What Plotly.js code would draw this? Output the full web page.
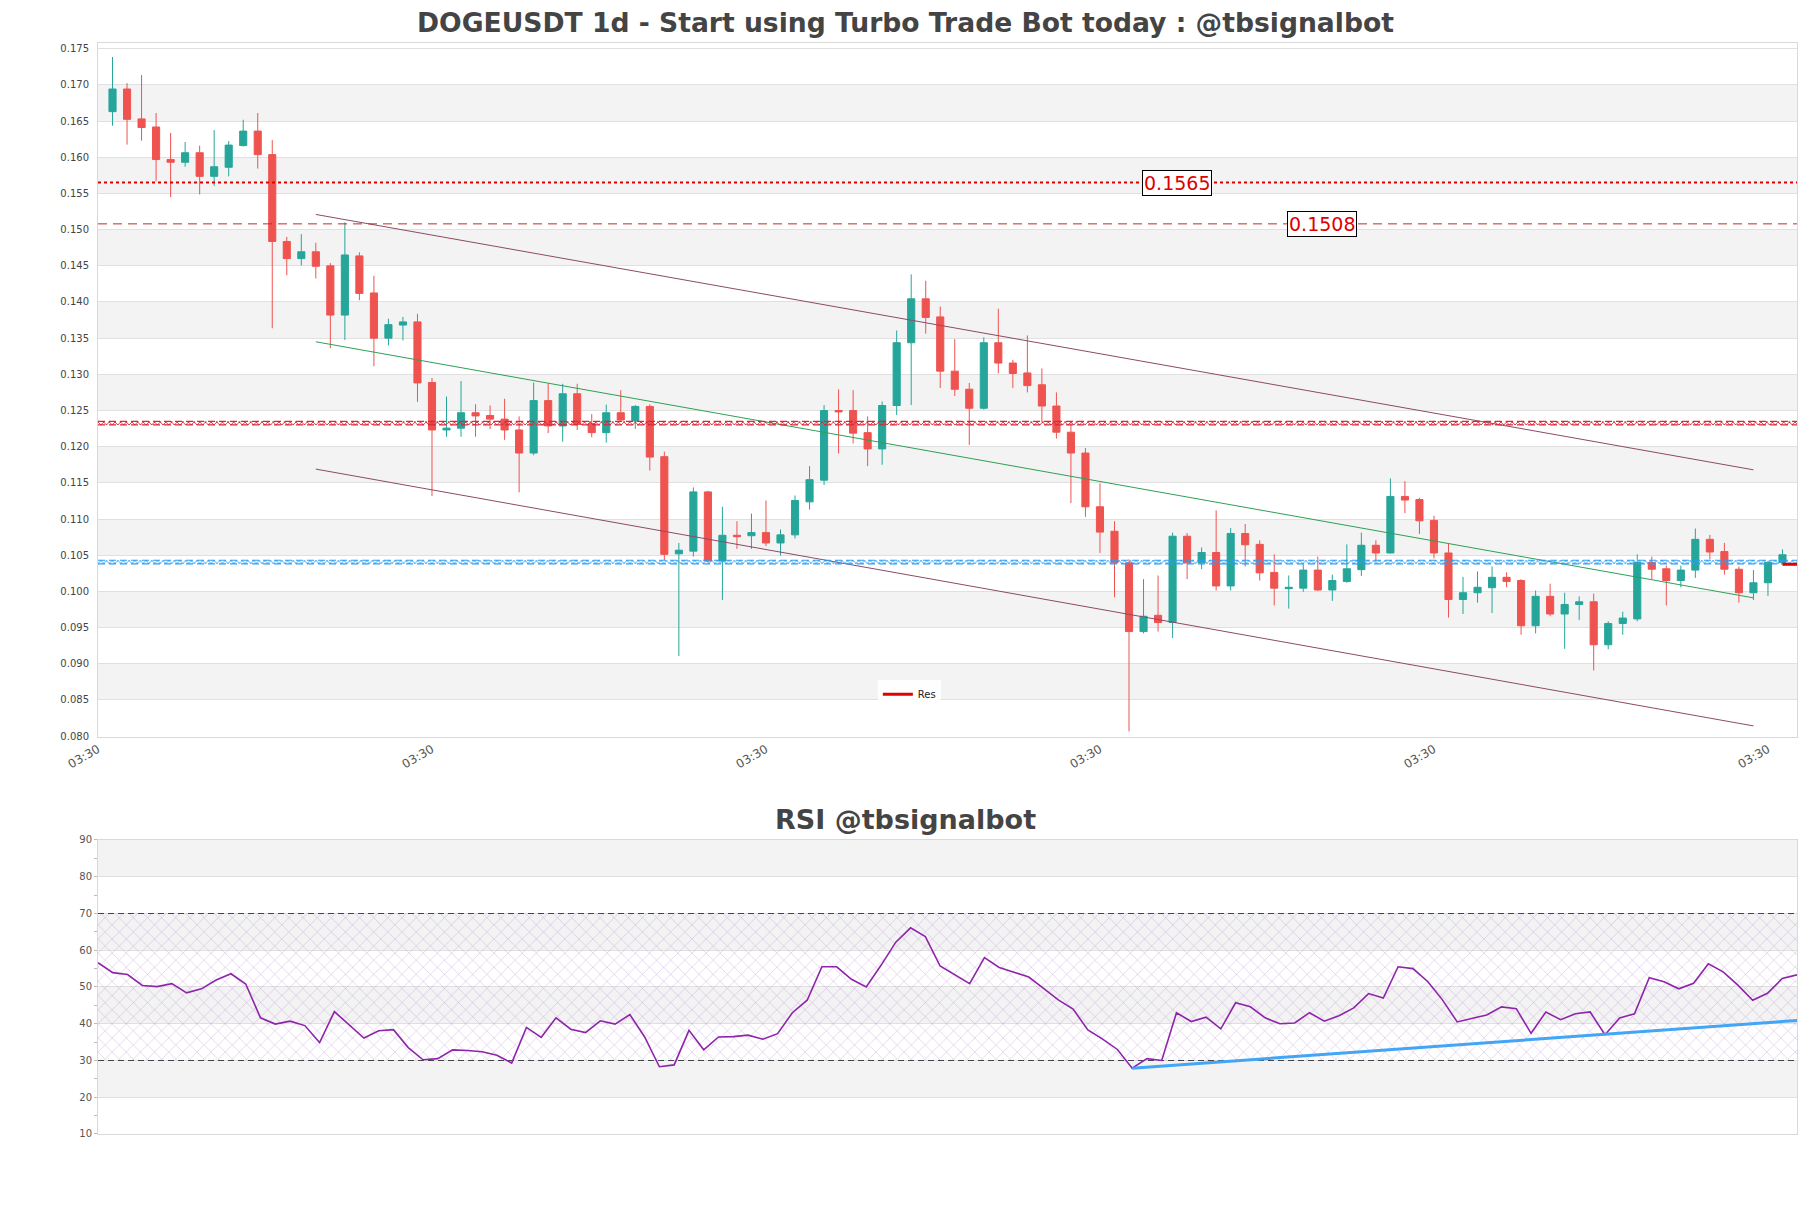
<!DOCTYPE html>
<html>
<head>
<meta charset="utf-8">
<script src="https://cdn.plot.ly/plotly-3.0.1.min.js"></script>
<style>html,body{margin:0;padding:0;background:#fff;}#chart{width:1811px;height:1208px;}</style>
</head>
<body>
<div id="chart"></div>
<script>
// ---- data ----
const startDate = Date.UTC(2024, 4, 27, 3, 30);
const openP = [0.16631,0.16944,0.16531,0.16419,0.15969,0.15931,0.16063,0.15737,0.15862,0.16162,
0.16362,0.16037,0.14837,0.14600,0.14694,0.14500,0.13819,0.14637,0.14125,0.13500,
0.13681,0.13725,0.12887,0.12231,0.12256,0.12469,0.12431,0.12381,0.12231,0.11912,
0.12637,0.12287,0.12731,0.12319,0.12194,0.12469,0.12356,0.12556,0.11862,0.10519,
0.10556,0.11375,0.10419,0.10775,0.10769,0.10812,0.10669,0.10781,0.11237,0.11537,
0.12500,0.12500,0.12194,0.11969,0.12569,0.13437,0.14044,0.13794,0.13044,0.12794,
0.12531,0.13437,0.13156,0.13019,0.12856,0.12562,0.12200,0.11912,0.11169,0.10831,
0.10394,0.09444,0.09669,0.09569,0.10762,0.10394,0.10537,0.10075,0.10800,0.10650,
0.10262,0.10037,0.10044,0.10294,0.10019,0.10137,0.10300,0.10637,0.10531,0.11312,
0.11269,0.10981,0.10531,0.09887,0.09981,0.10050,0.10194,0.10150,0.09525,0.09931,
0.09687,0.09819,0.09856,0.09262,0.09556,0.09619,0.10400,0.10312,0.10150,0.10294,
0.10719,0.10550,0.10306,0.09981,0.10119,0.10400];
const highP = [0.17387,0.17025,0.17137,0.16612,0.16337,0.16212,0.16162,0.16375,0.16225,0.16519,
0.16612,0.16237,0.14900,0.14937,0.14819,0.14537,0.15100,0.14687,0.14362,0.13769,
0.13794,0.13837,0.12950,0.12694,0.12906,0.12587,0.12569,0.12662,0.12419,0.12887,
0.12875,0.12869,0.12869,0.12450,0.12581,0.12781,0.12575,0.12587,0.11931,0.10669,
0.11437,0.11390,0.11169,0.10969,0.11075,0.11256,0.10856,0.11325,0.11731,0.12575,
0.12794,0.12781,0.12419,0.12625,0.13606,0.14381,0.14294,0.13937,0.13487,0.12881,
0.13512,0.13906,0.13200,0.13537,0.13081,0.12750,0.12325,0.11981,0.11494,0.10969,
0.10444,0.10169,0.10219,0.10812,0.10806,0.10606,0.11119,0.10875,0.10931,0.10706,
0.10512,0.10219,0.10375,0.10481,0.10231,0.10650,0.10812,0.10706,0.11562,0.11525,
0.11294,0.11044,0.10656,0.10200,0.10275,0.10344,0.10262,0.10169,0.10012,0.10106,
0.09981,0.09931,0.09969,0.09587,0.09719,0.10512,0.10481,0.10356,0.10356,0.10869,
0.10781,0.10669,0.10344,0.10294,0.10419,0.10581];
const lowP = [0.16437,0.16175,0.16231,0.15669,0.15450,0.15869,0.15487,0.15606,0.15737,0.16150,
0.15844,0.13637,0.14369,0.14506,0.14325,0.13362,0.13475,0.14025,0.13112,0.13400,
0.13469,0.12619,0.11319,0.12137,0.12137,0.12137,0.12244,0.12094,0.11369,0.11881,
0.12187,0.12069,0.12231,0.12131,0.12056,0.12356,0.12244,0.11669,0.10431,0.09106,
0.10481,0.10406,0.09881,0.10587,0.10587,0.10625,0.10494,0.10731,0.11131,0.11469,
0.11906,0.12044,0.11731,0.11750,0.12437,0.12575,0.13562,0.12812,0.12700,0.12025,
0.12512,0.13012,0.12812,0.12750,0.12344,0.12112,0.11219,0.11031,0.10531,0.09919,
0.08063,0.09419,0.09444,0.09356,0.10169,0.10306,0.10012,0.10012,0.10344,0.10150,
0.09806,0.09762,0.09994,0.10006,0.09869,0.10119,0.10212,0.10406,0.10525,0.11081,
0.10794,0.10456,0.09637,0.09687,0.09844,0.09700,0.10056,0.09400,0.09419,0.09656,
0.09206,0.09606,0.08906,0.09200,0.09400,0.09587,0.10169,0.09806,0.10056,0.10187,
0.10444,0.10231,0.09844,0.09881,0.09937,0.10387];
const closeP = [0.16944,0.16525,0.16412,0.15969,0.15931,0.16063,0.15737,0.15869,0.16169,0.16362,
0.16037,0.14837,0.14600,0.14694,0.14494,0.13819,0.14650,0.14119,0.13500,0.13687,
0.13725,0.12881,0.12231,0.12256,0.12469,0.12425,0.12381,0.12231,0.11912,0.12637,
0.12287,0.12731,0.12306,0.12194,0.12469,0.12369,0.12556,0.11856,0.10512,0.10569,
0.11375,0.10419,0.10775,0.10756,0.10812,0.10669,0.10781,0.11256,0.11544,0.12500,
0.12481,0.12187,0.11969,0.12569,0.13437,0.14044,0.13787,0.13044,0.12794,0.12531,
0.13437,0.13156,0.13012,0.12844,0.12562,0.12200,0.11912,0.11169,0.10819,0.10394,
0.09444,0.09656,0.09569,0.10762,0.10394,0.10537,0.10075,0.10800,0.10644,0.10256,
0.10044,0.10056,0.10294,0.10019,0.10150,0.10312,0.10637,0.10531,0.11312,0.11262,
0.10975,0.10531,0.09887,0.09981,0.10056,0.10194,0.10137,0.09525,0.09931,0.09687,
0.09819,0.09856,0.09262,0.09556,0.09631,0.10400,0.10306,0.10150,0.10294,0.10719,
0.10544,0.10306,0.09981,0.10119,0.10400,0.10506];
const rsiValues = [56.6,53.9,53.4,50.4,50.1,50.9,48.4,49.5,51.9,53.6,
50.8,41.6,39.9,40.7,39.5,34.9,43.3,39.8,36.1,38.1,
38.4,33.5,30.2,30.5,32.9,32.7,32.4,31.4,29.3,39.0,
36.3,41.6,38.5,37.6,40.8,39.9,42.5,36.4,28.3,28.8,
38.2,32.9,36.4,36.5,36.9,35.8,37.3,43.0,46.4,55.5,
55.5,52.1,50.0,55.9,62.2,66.1,63.7,55.7,53.3,50.9,
58.0,55.3,54.0,52.7,49.6,46.5,44.0,38.3,35.8,33.0,
27.9,30.5,30.0,43.0,40.6,41.8,38.6,45.7,44.6,41.6,
40.0,40.2,43.0,40.7,42.2,44.3,48.2,47.0,55.5,55.0,
51.5,46.5,40.5,41.4,42.4,44.6,44.1,37.4,43.2,41.1,
42.7,43.2,37.0,41.6,42.7,52.5,51.4,49.5,51.0,56.3,
54.1,50.5,46.4,48.3,52.3,53.3];
// channel / trend lines: [startIndex, endIndex] and values
const channelIdx = [14, 113];
const upperChannel = [0.1521, 0.1168];
const lowerChannel = [0.1169, 0.0814];
const midChannel = [0.1345, 0.0991];
const resLevels = {dotted: 0.1565, dashed: 0.1508};
const redZone = [0.1230, 0.1235];
const blueZone = [0.1038, 0.1043];
const resValue = 0.10375;
const rsiTrendIdx = [70, 115];
const rsiTrendVal = [27.9, 40.9];
const rsiLevels = [30, 70];

// ---- build ----
function d(i){ const t = startDate + i*86400000; return new Date(t).toISOString().slice(0,19).replace('T',' '); }
const N = closeP.length;
const dates = []; for (let i=0;i<N;i++) dates.push(d(i));

const INC = '#26a69a', DEC = '#ef5350';
const traces = [];
traces.push({type:'candlestick', x:dates, open:openP, high:highP, low:lowP, close:closeP,
  increasing:{line:{color:INC,width:1}, fillcolor:INC}, decreasing:{line:{color:DEC,width:1}, fillcolor:DEC},
  whiskerwidth:0, showlegend:false, hoverinfo:'skip', xaxis:'x', yaxis:'y'});

const chX = [d(channelIdx[0]), d(channelIdx[1])];
traces.push({type:'scatter', mode:'lines', x:chX, y:upperChannel, line:{color:'#8c4a6a',width:1}, showlegend:false, hoverinfo:'skip'});
traces.push({type:'scatter', mode:'lines', x:chX, y:lowerChannel, line:{color:'#8c4a6a',width:1}, showlegend:false, hoverinfo:'skip'});
traces.push({type:'scatter', mode:'lines', x:chX, y:midChannel, line:{color:'#2ea055',width:1}, showlegend:false, hoverinfo:'skip'});

const fullX = [d(-1), d(116)];
function zone(vals, color){
  traces.push({type:'scatter', mode:'lines', x:fullX, y:[vals[0],vals[0]], line:{color:color,width:1.2,dash:'7px,4px'}, showlegend:false, hoverinfo:'skip'});
  traces.push({type:'scatter', mode:'lines', x:fullX, y:[vals[1],vals[1]], line:{color:color,width:1.2,dash:'7px,4px'}, fill:'tonexty',
    fillpattern:{shape:'x', size:4, solidity:0.4, fgcolor:color}, showlegend:false, hoverinfo:'skip'});
}
zone(redZone, '#d8283a');
zone(blueZone, '#2a9df4');

traces.push({type:'scatter', mode:'lines', x:fullX, y:[resLevels.dotted,resLevels.dotted], line:{color:'#dd0000',width:2,dash:'dot'}, showlegend:false, hoverinfo:'skip'});
traces.push({type:'scatter', mode:'lines', x:fullX, y:[resLevels.dashed,resLevels.dashed], line:{color:'#c62828',width:1,dash:'9px,6px'}, showlegend:false, hoverinfo:'skip'});

traces.push({type:'scatter', mode:'lines', name:'Res', x:[d(115), d(116)], y:[resValue,resValue], line:{color:'#e00000',width:3}, showlegend:true, hoverinfo:'skip'});

// RSI panel
const rsiX0 = [d(0), d(115)];
traces.push({type:'scatter', mode:'lines', x:rsiX0, y:[rsiLevels[0],rsiLevels[0]], xaxis:'x2', yaxis:'y2', line:{color:'#444',width:1.2,dash:'6px,4px'}, showlegend:false, hoverinfo:'skip'});
traces.push({type:'scatter', mode:'lines', x:rsiX0, y:[rsiLevels[1],rsiLevels[1]], xaxis:'x2', yaxis:'y2', line:{color:'#444',width:1.2,dash:'6px,4px'},
  fill:'tonexty', fillpattern:{shape:'x', size:10, solidity:0.08, fgcolor:'rgba(160,100,190,0.6)'}, showlegend:false, hoverinfo:'skip'});
traces.push({type:'scatter', mode:'lines', x:dates, y:rsiValues, xaxis:'x2', yaxis:'y2', line:{color:'#8e24aa',width:1.6}, showlegend:false, hoverinfo:'skip'});
traces.push({type:'scatter', mode:'lines', x:[d(rsiTrendIdx[0]), d(rsiTrendIdx[1])], y:rsiTrendVal, xaxis:'x2', yaxis:'y2', line:{color:'#42a5f5',width:3}, showlegend:false, hoverinfo:'skip'});

// background bands
const shapes = [];
for (let v=0.085; v<0.17; v+=0.01){
  shapes.push({type:'rect', xref:'x domain', yref:'y', x0:0, x1:1, y0:v, y1:v+0.005, fillcolor:'#f3f3f3', line:{width:0}, layer:'below'});
}
for (let v=20; v<=80; v+=20){
  shapes.push({type:'rect', xref:'x2 domain', yref:'y2', x0:0, x1:1, y0:v, y1:v+10, fillcolor:'#f3f3f4', line:{width:0}, layer:'below'});
}

const tickFont = {family:'DejaVu Sans', size:10, color:'#444'};
const labelStyle = {showarrow:false, xanchor:'center', yanchor:'middle', font:{family:'DejaVu Sans', size:19, color:'#e00000'},
  bgcolor:'#fff', bordercolor:'#000', borderwidth:1, borderpad:1};
const layout = {
  width:1811, height:1208,
  margin:{l:98, r:14, t:43, b:74},
  paper_bgcolor:'#fff', plot_bgcolor:'#fff',
  title:{text:'DOGEUSDT 1d - Start using Turbo Trade Bot today : @tbsignalbot', x:0.5, xanchor:'center', y:0.981, yanchor:'middle',
    font:{family:'DejaVu Sans', size:26.6, color:'#444', weight:'bold'}},
  showlegend:true,
  legend:{x:0.459, y:0.403, xanchor:'left', yanchor:'middle', bgcolor:'rgba(255,255,255,0.85)', font:{family:'DejaVu Sans', size:10, color:'#222'}, borderwidth:0},
  xaxis:{type:'date', range:fullX, domain:[0,1], anchor:'y', rangeslider:{visible:false},
    tick0:d(-1), dtick:23*86400000, tickformat:'%H:%M', tickangle:-30, tickfont:{family:'DejaVu Sans', size:12, color:'#555'},
    showgrid:false, showline:true, mirror:true, linecolor:'#d9d9d9', linewidth:1, zeroline:false, ticks:''},
  yaxis:{domain:[0.3641,1], range:[0.0799,0.1758], tick0:0, dtick:0.005, tickformat:'.3f', tickfont:tickFont, ticklabelstandoff:6,
    showgrid:true, gridcolor:'#e0e0e0', gridwidth:1, showline:true, mirror:true, linecolor:'#d9d9d9', zeroline:false, ticks:''},
  xaxis2:{type:'date', range:rsiX0, domain:[0,1], anchor:'y2', showticklabels:false, showgrid:false, showline:true, mirror:true, linecolor:'#d9d9d9', zeroline:false, ticks:''},
  yaxis2:{domain:[0,0.2695], range:[10,90], dtick:10, tickfont:{family:'DejaVu Sans', size:10, color:'#555'},
    showgrid:true, gridcolor:'#e0e0e0', showline:true, mirror:true, linecolor:'#d9d9d9', zeroline:false,
    ticks:'outside', ticklen:3, tickcolor:'#bbb', minor:{dtick:5, ticks:'outside', ticklen:3, tickcolor:'#bbb', showgrid:false}},
  shapes:shapes,
  annotations:[
    Object.assign({text:'0.1565', xref:'paper', yref:'y', x:0.635, y:resLevels.dotted}, labelStyle),
    Object.assign({text:'0.1508', xref:'paper', yref:'y', x:0.7205, y:resLevels.dashed}, labelStyle),
    {text:'<b>RSI @tbsignalbot</b>', xref:'paper', yref:'paper', x:0.4753, y:0.2879, xanchor:'center', yanchor:'middle', showarrow:false,
      font:{family:'DejaVu Sans', size:27, color:'#444'}}
  ]
};
Plotly.newPlot('chart', traces, layout, {displayModeBar:false, staticPlot:true});
</script>
</body>
</html>
